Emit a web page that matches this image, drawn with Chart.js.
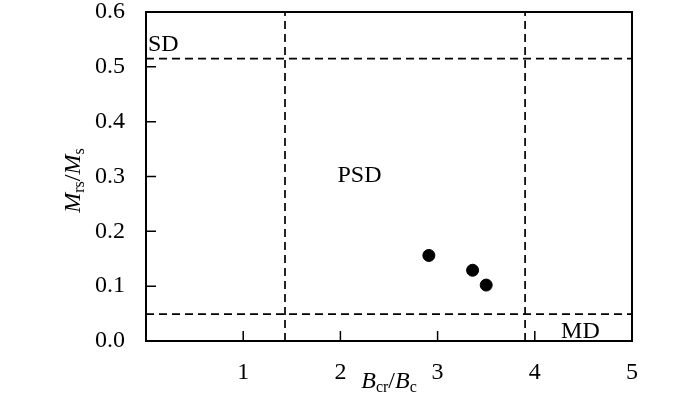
<!DOCTYPE html>
<html>
<head>
<meta charset="utf-8">
<script src="https://cdn.jsdelivr.net/npm/chart.js@4.4.0/dist/chart.umd.min.js"></script>
<style>
  body { margin: 0; background: #fff; }
</style>
</head>
<body>
<canvas id="day-plot" width="700" height="403"></canvas>
<script>
// sample points (Bcr/Bc, Mrs/Ms)
const bcrBc = [2.91, 3.36, 3.50];
const mrsMs = [0.156, 0.129, 0.102];

// domain boundaries
const mrsLimits = [0.515, 0.049];
const bcrLimits = [1.43, 3.90];

// region labels, anchored at left / baseline
const regionNames = ['SD', 'PSD', 'MD'];
const regionX = [0.02, 1.97, 4.27];
const regionY = [0.528, 0.29, 0.006];

// axis ticks
const xTickValues = [1, 2, 3, 4, 5];
const yTickValues = [0, 0.1, 0.2, 0.3, 0.4, 0.5, 0.6];
const yTickLabels = ['0.0', '0.1', '0.2', '0.3', '0.4', '0.5', '0.6'];

const SERIF = '"Liberation Serif", "Times New Roman", serif';

const dashed = {
  showLine: true,
  borderColor: '#000',
  borderWidth: 1.7,
  borderDash: [8, 5],
  pointRadius: 0,
  fill: false
};

const datasets = [
  {
    label: 'samples',
    data: bcrBc.map((v, i) => ({ x: v, y: mrsMs[i] })),
    backgroundColor: '#000',
    borderColor: '#000',
    pointRadius: 6,
    showLine: false
  }
];
mrsLimits.forEach(m => datasets.push(Object.assign({ data: [{ x: 0, y: m }, { x: 5, y: m }] }, dashed)));
bcrLimits.forEach(b => datasets.push(Object.assign({ data: [{ x: b, y: 0 }, { x: b, y: 0.6 }] }, dashed)));

// draws text made of runs (italic letter, subscript...), left to right
function drawRuns(ctx, runs, x, y) {
  runs.forEach(r => {
    ctx.font = r.font;
    ctx.fillText(r.text, x, y + (r.dy || 0));
    x += ctx.measureText(r.text).width;
  });
}
function runsWidth(ctx, runs) {
  let w = 0;
  runs.forEach(r => { ctx.font = r.font; w += ctx.measureText(r.text).width; });
  return w;
}

const it = 'italic 24px ' + SERIF;
const up = '24px ' + SERIF;
const sub = '16px ' + SERIF;
const xTitle = [
  { text: 'B', font: it }, { text: 'cr', font: sub, dy: 4 },
  { text: '/', font: up }, { text: 'B', font: it }, { text: 'c', font: sub, dy: 4 }
];
const yTitle = [
  { text: 'M', font: it }, { text: 'rs', font: sub, dy: 4 },
  { text: '/', font: up }, { text: 'M', font: it }, { text: 's', font: sub, dy: 4 }
];

const framePlugin = {
  id: 'frame',
  afterDraw(chart) {
    const { ctx, chartArea: a, scales: { x, y } } = chart;
    ctx.save();
    ctx.strokeStyle = '#000';
    ctx.fillStyle = '#000';
    ctx.lineWidth = 2;
    ctx.strokeRect(a.left, a.top, a.right - a.left, a.bottom - a.top);

    // inward ticks
    ctx.lineWidth = 1.5;
    ctx.beginPath();
    xTickValues.forEach(v => {
      if (v >= 5) return;
      const px = x.getPixelForValue(v);
      ctx.moveTo(px, a.bottom);
      ctx.lineTo(px, a.bottom - 10);
    });
    yTickValues.forEach(v => {
      if (v <= 0 || v >= 0.6) return;
      const py = y.getPixelForValue(v);
      ctx.moveTo(a.left, py);
      ctx.lineTo(a.left + 10, py);
    });
    ctx.stroke();

    // region names
    ctx.font = '24px ' + SERIF;
    ctx.textAlign = 'left';
    ctx.textBaseline = 'alphabetic';
    regionNames.forEach((n, i) => {
      ctx.fillText(n, x.getPixelForValue(regionX[i]), y.getPixelForValue(regionY[i]));
    });

    // axis titles
    const cx = (a.left + a.right) / 2;
    drawRuns(ctx, xTitle, cx - runsWidth(ctx, xTitle) / 2, 388);
    ctx.translate(80, (a.top + a.bottom) / 2 + 4);
    ctx.rotate(-Math.PI / 2);
    drawRuns(ctx, yTitle, -runsWidth(ctx, yTitle) / 2, 0);
    ctx.restore();
  }
};

new Chart(document.getElementById('day-plot'), {
  type: 'scatter',
  data: { datasets: datasets },
  options: {
    responsive: false,
    animation: false,
    layout: { padding: { top: 12, right: 68, left: 0, bottom: 0 } },
    plugins: { legend: { display: false }, tooltip: { enabled: false } },
    scales: {
      x: {
        type: 'linear',
        min: 0,
        max: 5,
        grid: { display: false },
        border: { display: false },
        afterBuildTicks: s => { s.ticks = xTickValues.map(v => ({ value: v })); },
        afterFit: s => { s.height = 62; s.paddingLeft = 0; s.paddingRight = 0; },
        ticks: { color: '#000', padding: 9, maxRotation: 0, font: { family: SERIF, size: 24 } }
      },
      y: {
        type: 'linear',
        min: 0,
        max: 0.6,
        grid: { display: false },
        border: { display: false },
        afterBuildTicks: s => { s.ticks = yTickValues.map(v => ({ value: v })); },
        afterFit: s => { s.width = 146; s.paddingTop = 0; s.paddingBottom = 0; },
        ticks: {
          color: '#000',
          padding: 13,
          font: { family: SERIF, size: 24 },
          callback: (v, i) => yTickLabels[i]
        }
      }
    }
  },
  plugins: [framePlugin]
});
</script>
</body>
</html>
